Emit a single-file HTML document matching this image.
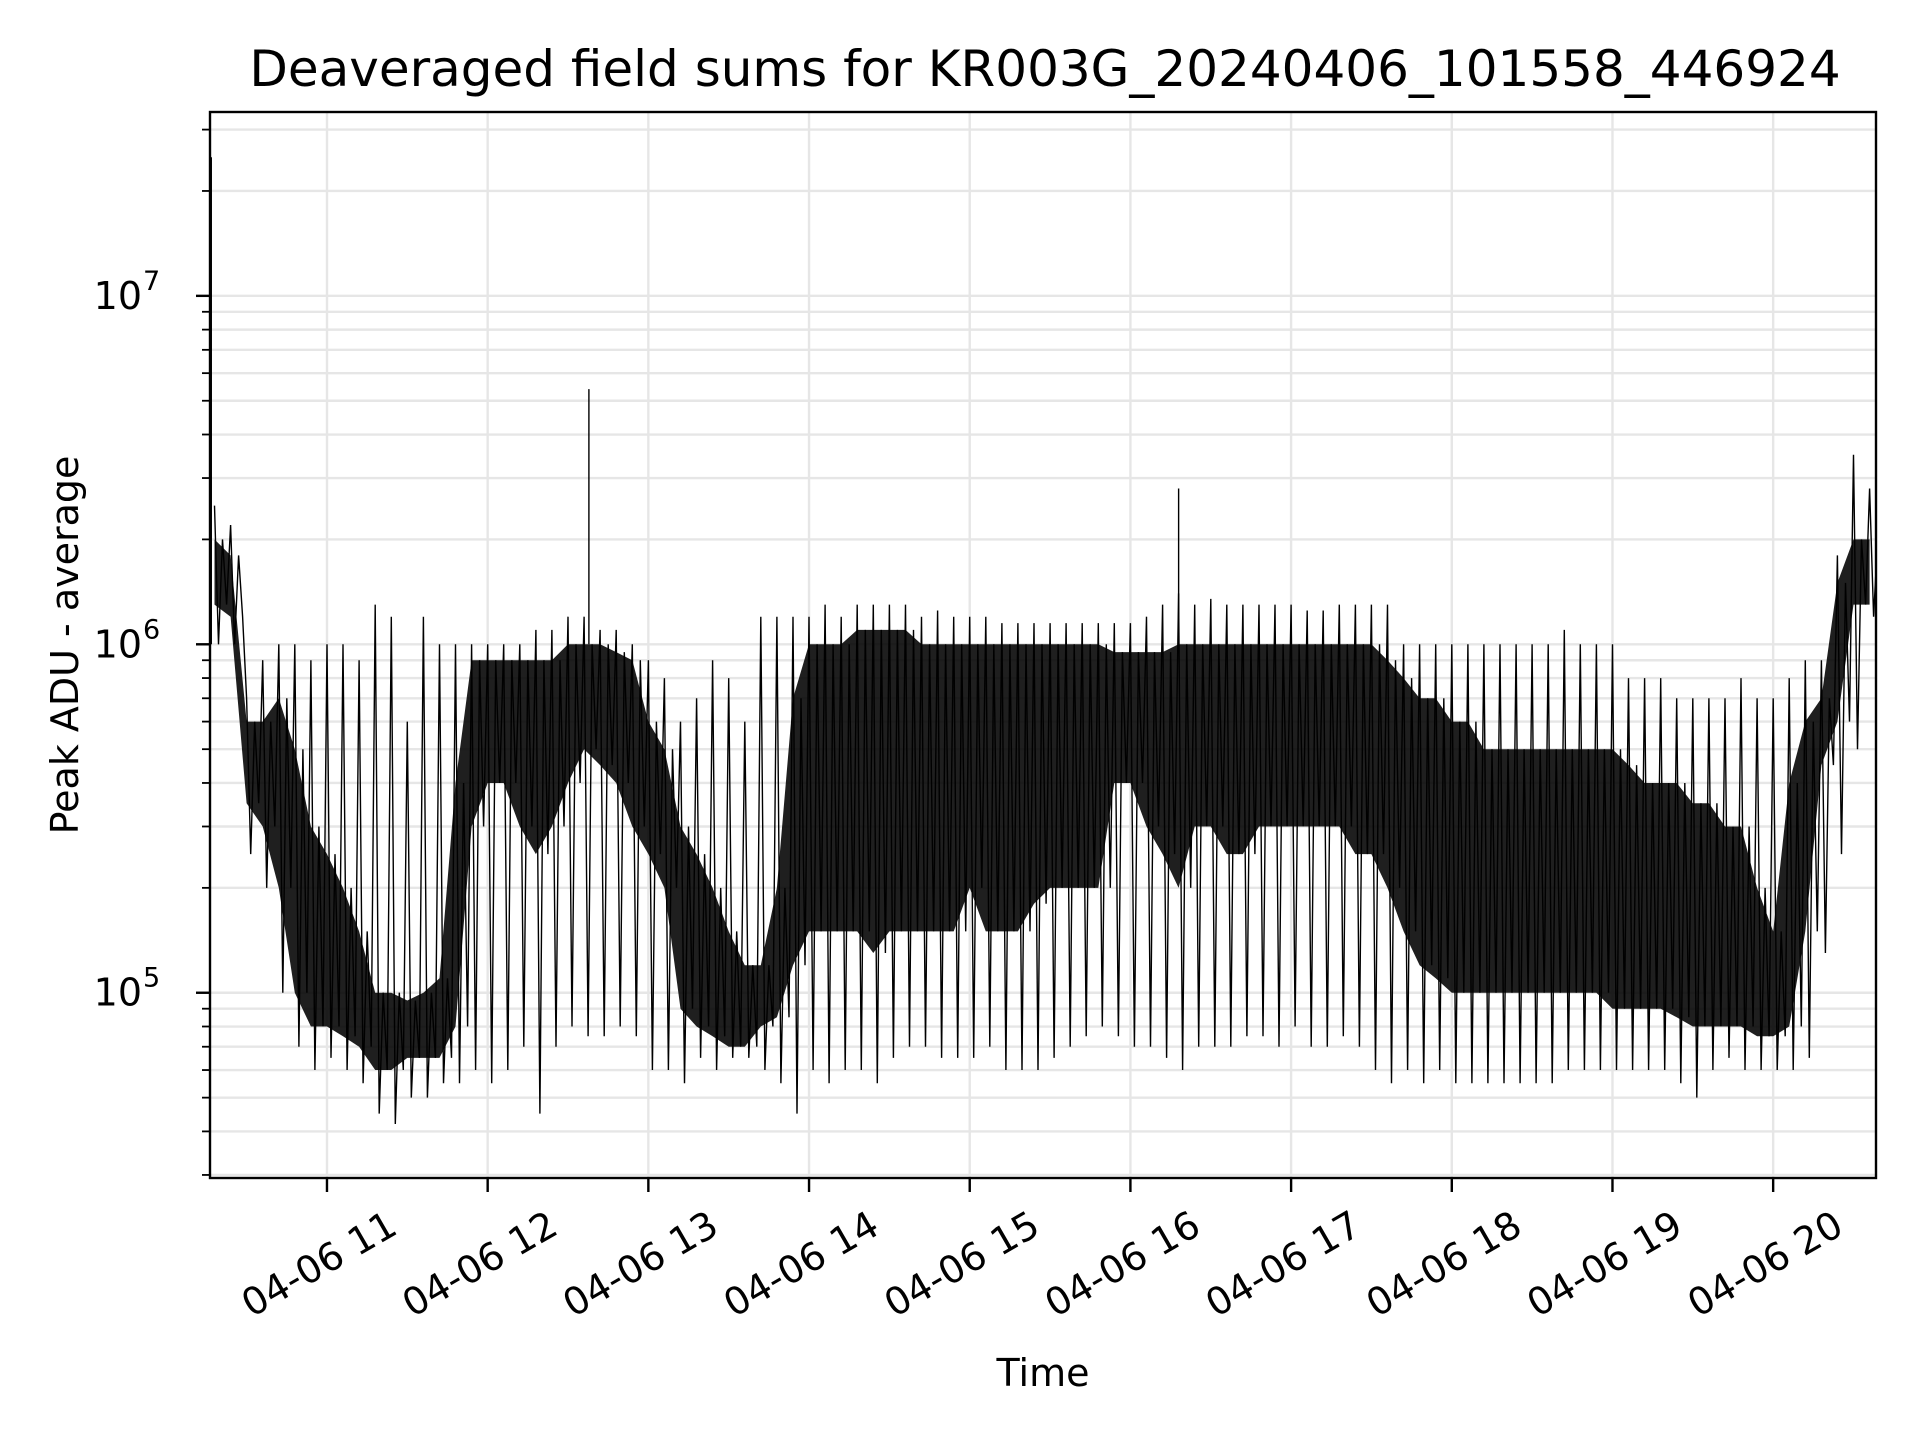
<!DOCTYPE html>
<html><head><meta charset="utf-8"><style>
html,body{margin:0;padding:0;background:#fff}
svg{display:block;font-family:"DejaVu Sans","Liberation Sans",sans-serif}
</style></head><body>
<svg id="chart" width="1920" height="1440" viewBox="0 0 1920 1440" xmlns="http://www.w3.org/2000/svg">
<defs><clipPath id="plotclip"><rect x="210" y="112" width="1666" height="1066"/></clipPath></defs>
<rect width="1920" height="1440" fill="#fff"/>
<g id="grid"></g>
<g id="series" clip-path="url(#plotclip)"></g>
<rect x="210" y="112" width="1666" height="1066" fill="none" stroke="#000" stroke-width="2.4"/>
<g id="axes"></g>
<text x="1045" y="86" font-size="50" text-anchor="middle">Deaveraged field sums for KR003G_20240406_101558_446924</text>
<text x="1043" y="1398" font-size="38" text-anchor="middle" transform="translate(0,-12)">Time</text>
<text transform="translate(78,645) rotate(-90)" font-size="38" text-anchor="middle">Peak ADU - average</text>
</svg>
<script>
// data (values in kADU, times in hours of 2024-04-06)
const binStart = 10.3;
const binStep = 0.1;
const hiVals = [2500,2200,700,900,1000,1000,900,1000,1000,900,1300,1200,600,1200,1000,1000,1000,1000,1000,1000,1100,1100,1200,1200,1100,1100,1000,900,800,600,700,900,800,600,1200,1200,1200,1200,1300,1200,1300,1300,1300,1300,1200,1250,1200,1200,1200,1150,1150,1150,1150,1150,1150,1150,1150,1150,1200,1300,1400,1300,1350,1300,1300,1300,1300,1300,1250,1250,1300,1300,1300,1300,1000,1000,1000,1000,1000,1000,1000,1000,1000,1000,1100,1000,1000,1000,800,800,800,700,700,700,700,800,700,700,800,900,900,1800,3500,2800];
const coreHi = [2000,1800,600,600,700,500,300,250,200,150,100,100,95,100,110,400,900,900,900,900,900,900,1000,1000,1000,950,900,600,500,300,250,200,150,120,120,200,700,1000,1000,1000,1100,1100,1100,1100,1000,1000,1000,1000,1000,1000,1000,1000,1000,1000,1000,1000,950,950,950,950,1000,1000,1000,1000,1000,1000,1000,1000,1000,1000,1000,1000,1000,900,800,700,700,600,600,500,500,500,500,500,500,500,500,500,450,400,400,400,350,350,300,300,200,150,400,600,700,1500,2000,2000];
const coreLo = [1300,1200,350,300,200,100,80,80,75,70,60,60,65,65,65,80,300,400,400,300,250,300,400,500,450,400,300,250,200,90,80,75,70,70,80,85,120,150,150,150,150,130,150,150,150,150,150,200,150,150,150,180,200,200,200,200,400,400,300,250,200,300,300,250,250,300,300,300,300,300,300,250,250,200,150,120,110,100,100,100,100,100,100,100,100,100,100,90,90,90,90,85,80,80,80,80,75,75,80,150,450,600,1300,1300];
const loVals = [1000,1000,250,200,100,70,60,65,60,55,45,42,50,50,55,55,60,55,60,70,45,70,80,75,75,80,75,60,60,55,65,60,65,65,60,55,45,60,55,60,60,55,65,70,70,65,65,65,70,60,60,60,65,70,75,80,75,70,70,65,60,70,70,70,75,75,70,80,70,70,75,70,60,55,60,55,60,55,55,55,55,55,55,55,60,60,60,60,60,60,60,55,50,60,65,60,60,60,60,65,130,250,500,1200];
const spikeTimes = [10.28, 12.63, 16.3, 20.64];
const spikeVals = [25000, 5400, 2800, 7000];
const xTickHours = [11,12,13,14,15,16,17,18,19,20];
const xTickLabels = ["04-06 11","04-06 12","04-06 13","04-06 14","04-06 15","04-06 16","04-06 17","04-06 18","04-06 19","04-06 20"];
const yMajorExps = [5,6,7];

(function(){
const NS="http://www.w3.org/2000/svg";
const L=210,R=1876,T=112,B=1178;
const tMin=10.272,tMax=20.64;
const yMinLog=Math.log10(29400),yMaxLog=Math.log10(3.37e7);
function xs(t){return L+(t-tMin)/(tMax-tMin)*(R-L);}
function ys(v){return B-(Math.log10(v)-yMinLog)/(yMaxLog-yMinLog)*(B-T);}
function mk(tag,attrs,parent){const e=document.createElementNS(NS,tag);for(const k in attrs)e.setAttribute(k,attrs[k]);parent.appendChild(e);return e;}
const grid=document.getElementById('grid'),axes=document.getElementById('axes'),series=document.getElementById('series');

for(let e=4;e<=7;e++){for(let m=1;m<=9;m++){const v=m*Math.pow(10,e);const y=ys(v);if(y<T-1||y>B+1)continue;
 const gl=mk('line',{x1:L,x2:R,y1:y,y2:y,stroke:'#e6e6e6','stroke-width':2.4},grid);
 
 
 const major=(m===1);
 const tk=mk('line',{x1:L-(major?14:8),x2:L,y1:y,y2:y,stroke:'#000','stroke-width':major?2.4:1.8},axes);
 
 
}}
yMajorExps.forEach(e=>{const y=ys(Math.pow(10,e));
 const t=mk('text',{x:L-68,y:y+13,'font-size':38,'text-anchor':'end'},axes);
 
 
 t.textContent='10';
 const s=mk('text',{x:L-67,y:y-6,'font-size':27,'text-anchor':'start'},axes);
 
 
 s.textContent=String(e);
});
xTickHours.forEach((h,i)=>{const x=xs(h);
 const gl=mk('line',{x1:x,x2:x,y1:T,y2:B,stroke:'#e6e6e6','stroke-width':2.4},grid);
 
 
 const tk=mk('line',{x1:x,x2:x,y1:B,y2:B+14,stroke:'#000','stroke-width':2.4},axes);
 
 
 const t=mk('text',{transform:`translate(${x-8},${1264}) rotate(-30)`,'font-size':38,'text-anchor':'middle','dominant-baseline':'central'},axes);
 
 
 t.textContent=xTickLabels[i];
});
const K=1000;
const nCore=Math.min(coreHi.length,coreLo.length);
let upper=[],lower=[];
for(let i=0;i<nCore;i++){const t=binStart+binStep*i;
 upper.push(xs(t).toFixed(1)+','+ys(coreHi[i]*K).toFixed(1));
 lower.unshift(xs(t).toFixed(1)+','+ys(coreLo[i]*K).toFixed(1));}
const core=mk('polygon',{points:upper.concat(lower).join(' '),fill:'#000','fill-opacity':0.88},series);


const n=Math.min(hiVals.length,loVals.length,nCore);
let pts=[];
for(let i=0;i<n;i++){const t=binStart+binStep*i;
 pts.push(xs(t).toFixed(1)+','+ys(hiVals[i]*K).toFixed(1));
 pts.push(xs(t+binStep*0.25).toFixed(1)+','+ys(loVals[i]*K).toFixed(1));
 pts.push(xs(t+binStep*0.5).toFixed(1)+','+ys(coreHi[i]*K).toFixed(1));
 pts.push(xs(t+binStep*0.75).toFixed(1)+','+ys(coreLo[i]*K).toFixed(1));}
const line=mk('polyline',{points:pts.join(' '),fill:'none',stroke:'#000','stroke-width':1.4},series);


spikeTimes.forEach((t,i)=>{const x=xs(t);
 const s=mk('line',{x1:x,x2:x,y1:ys(spikeVals[i]*K),y2:ys(1000*K),stroke:'#000','stroke-width':1.4},series);
 
 
});
})();
</script>
</body></html>
